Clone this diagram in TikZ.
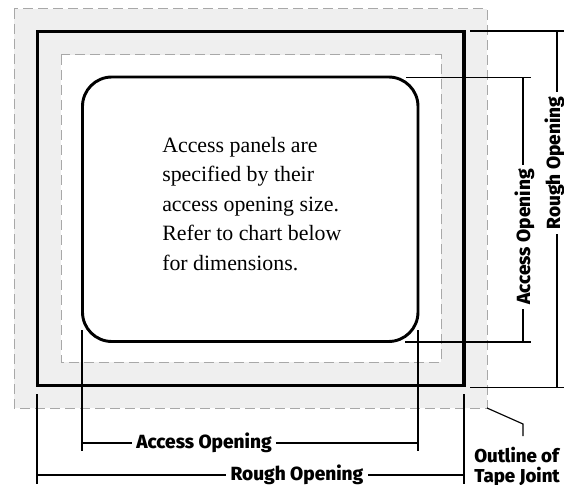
\documentclass[tikz,border=0pt]{standalone}
\usepackage{fontspec}
\setmainfont{Liberation Serif}
\newfontfamily\labelfont{Fira Sans}[UprightFont=* ExtraBold]
\usetikzlibrary{positioning}
\definecolor{tapegray}{HTML}{EFEFEF}
\definecolor{dashgray}{HTML}{A8A8A8}
\tikzset{
  dimlabel/.style={
    font=\labelfont\fontsize{14.3}{15}\selectfont,
    fill=white,
    anchor=base,
    inner sep=3pt
  },
  dimline/.style={line width=0.85pt},
  tapeline/.style={draw=dashgray, line width=0.75pt, dash pattern=on 7.5pt off 3.75pt},
  panelline/.style={line width=2.2pt}
}

\begin{document}
\begin{tikzpicture}[x=0.75pt,y=-0.75pt]
      \useasboundingbox (0,0) rectangle (564,485);
      % tape joint and wall
      \filldraw[tapeline, fill=tapegray] (14,9) rectangle (487,408);
      \filldraw[tapeline, fill=white] (61,55) rectangle (441,362);
      \draw[panelline, line width=2.6pt] (37.5,31.5) rectangle (464,385.5);
      \draw[panelline, rounded corners=22pt] (82.5,77) rectangle (418,341.5);

      \node[anchor=north west, inner sep=0pt, align=left,
      font=\fontsize{16.4}{22.1}\selectfont] (Note) at (162,137)
      {Access panels are\\specified by their\\access opening size.\\Refer to chart below\\for dimensions.};

      \coordinate (AccessTopA) at (406,77.5);
      \coordinate (AccessTopB) at (531,77.5);
      \coordinate (AccessTopC) at (523,77.5);
      \coordinate (AccessLowA) at (405,342);
      \coordinate (AccessLowB) at (531,342);
      \coordinate (AccessLowC) at (523,342);
      \coordinate (RoughTopA) at (470,31);
      \coordinate (RoughTopB) at (564,31);
      \coordinate (RoughTopC) at (557,31);
      \coordinate (RoughLowA) at (470,387.5);
      \coordinate (RoughLowB) at (564,387.5);
      \coordinate (RoughLowC) at (557,387.5);

      \node[dimlabel, rotate=90] (AccessSide) at (530,237) {Access Opening};
      \node[dimlabel, rotate=90] (RoughSide) at (560,163) {Rough Opening};
      \draw[dimline] (AccessTopA) -- (AccessTopB);
      \draw[dimline] (AccessLowA) -- (AccessLowB);
      \draw[dimline] (RoughTopA) -- (RoughTopB);
      \draw[dimline] (RoughLowA) -- (RoughLowB);
      \draw[dimline] (AccessTopC) -- (AccessTopC |- AccessSide.east);
      \draw[dimline] (AccessLowC) -- (AccessLowC |- AccessSide.west);
      \draw[dimline] (RoughTopC) -- (RoughTopC |- RoughSide.east);
      \draw[dimline] (RoughLowC) -- (RoughLowC |- RoughSide.west);

      \coordinate (AccessLeftA) at (82,330);
      \coordinate (AccessLeftB) at (82,451);
      \coordinate (AccessLeftC) at (82,443);
      \coordinate (AccessRightA) at (418,330);
      \coordinate (AccessRightB) at (418,451);
      \coordinate (AccessRightC) at (418,443);
      \coordinate (RoughLeftA) at (37,394);
      \coordinate (RoughLeftB) at (37,484);
      \coordinate (RoughLeftC) at (37,475);
      \coordinate (RoughRightA) at (464,394);
      \coordinate (RoughRightB) at (464,484);
      \coordinate (RoughRightC) at (464,475);

      \node[dimlabel] (AccessBase) at (204,448) {Access Opening};
      \node[dimlabel] (RoughBase) at (297,480) {Rough Opening};
      \draw[dimline] (AccessLeftA) -- (AccessLeftB);
      \draw[dimline] (AccessRightA) -- (AccessRightB);
      \draw[dimline] (RoughLeftA) -- (RoughLeftB);
      \draw[dimline] (RoughRightA) -- (RoughRightB);
      \draw[dimline] (AccessLeftC) -- (AccessLeftC -| AccessBase.west);
      \draw[dimline] (AccessRightC) -- (AccessRightC -| AccessBase.east);
      \draw[dimline] (RoughLeftC) -- (RoughLeftC -| RoughBase.west);
      \draw[dimline] (RoughRightC) -- (RoughRightC -| RoughBase.east);

      % leader to the tape joint
      \coordinate (TapeCorner) at (487,408);
      \coordinate (TapeBend) at (523,424);
      \coordinate (TapeEnd) at (523,436);
      \node[anchor=north west, inner sep=0pt, align=left,
      font=\labelfont\fontsize{14}{15}\selectfont] (TapeNote) at (474,447) {Outline of\\Tape Joint};
      \draw[dimline] (TapeCorner) -- (TapeBend) -- (TapeEnd);
    \end{tikzpicture}
\end{document}
